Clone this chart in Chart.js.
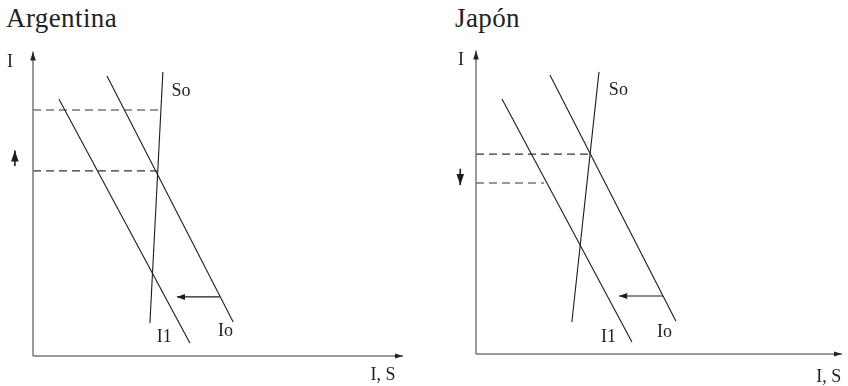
<!DOCTYPE html>
<html lang="es">
  <head>
    <meta charset="UTF-8" />
    <title>Ahorro e inversión: Argentina y Japón</title>
    <style>
      body {
        margin: 0;
        background: #fff;
      }
      .page {
        position: relative;
        width: 848px;
        height: 386px;
      }
      .panel {
        position: absolute;
        top: 0;
        width: 424px;
        height: 386px;
      }
      .panel h2 {
        position: absolute;
        top: 0;
        margin: 0;
        font-family: "Liberation Serif", "DejaVu Serif", serif;
        font-weight: normal;
        font-size: 27px;
        letter-spacing: 0.4px;
        color: #222;
        line-height: 36px;
      }
      canvas {
        position: absolute;
        left: 0;
        top: 0;
      }
    </style>
  </head>
  <body>
    <div class="page">
      <div class="panel" style="left: 0">
        <h2 style="left: 6px">Argentina</h2>
        <canvas id="chartArg" width="424" height="386"></canvas>
      </div>
      <div class="panel" style="left: 424px">
        <h2 style="left: 31px">Japón</h2>
        <canvas id="chartJap" width="424" height="386"></canvas>
      </div>
    </div>

    <script src="https://cdn.jsdelivr.net/npm/chart.js"></script>

    <script>
      // ejes en unidades del gráfico (0..100)
      const axisY = [{ x: 0, y: 0 }, { x: 0, y: 100.5 }];
      const axisX = [{ x: 0, y: 0 }, { x: 100, y: 0 }];

      // Argentina
      const argSo = [{ x: 35.1, y: 93.7 }, { x: 31.6, y: 10.9 }];
      const argIo = [{ x: 20.0, y: 92.4 }, { x: 54.1, y: 11.2 }];
      const argI1 = [{ x: 7.0, y: 84.8 }, { x: 42.4, y: 4.3 }];
      const argDashHigh = [{ x: 0, y: 81.2 }, { x: 33.8, y: 81.2 }];
      const argDashLow = [{ x: 0, y: 61.1 }, { x: 33.5, y: 61.1 }];
      const argShift = [{ x: 50.5, y: 19.5 }, { x: 38.9, y: 19.5 }];
      const argRateMove = [{ x: -4.9, y: 62.7 }, { x: -4.9, y: 67.8 }];
      const argLabels = [
        { text: "So", x: 40.0, y: 87.5 },
        { text: "I1", x: 35.5, y: 6.3 },
        { text: "Io", x: 52.0, y: 8.3 },
        { text: "I", x: -6.2, y: 97.0 },
        { text: "I, S", x: 94.6, y: -6.3 },
      ];

      // Japón
      const japSo = [{ x: 33.6, y: 93.4 }, { x: 26.2, y: 10.6 }];
      const japIo = [{ x: 20.2, y: 92.4 }, { x: 54.6, y: 10.9 }];
      const japI1 = [{ x: 7.1, y: 84.4 }, { x: 42.6, y: 4.0 }];
      const japDashHigh = [{ x: 0, y: 66.2 }, { x: 31.4, y: 66.2 }];
      const japDashLow = [{ x: 0, y: 56.6 }, { x: 18.6, y: 56.6 }];
      const japShift = [{ x: 51.1, y: 19.2 }, { x: 39.1, y: 19.2 }];
      const japRateMove = [{ x: -4.3, y: 61.3 }, { x: -4.3, y: 56.0 }];
      const japLabels = [
        { text: "So", x: 38.9, y: 87.4 },
        { text: "I1", x: 36.2, y: 5.6 },
        { text: "Io", x: 51.5, y: 7.3 },
        { text: "I", x: -4.1, y: 97.4 },
        { text: "I, S", x: 96.4, y: -7.6 },
      ];

      const ink = "#1c1c1c";

      // punta de flecha al final de los datasets marcados con arrow
      const arrowPlugin = {
        id: "arrows",
        afterDatasetsDraw(chart) {
          const c = chart.ctx;
          chart.data.datasets.forEach((ds, i) => {
            if (!ds.arrow) return;
            const pts = chart.getDatasetMeta(i).data;
            const a = pts[pts.length - 2];
            const b = pts[pts.length - 1];
            const ang = Math.atan2(b.y - a.y, b.x - a.x);
            const len = ds.arrow.len;
            const half = ds.arrow.half;
            c.save();
            c.fillStyle = ds.arrow.color || ink;
            c.translate(b.x, b.y);
            c.rotate(ang);
            c.beginPath();
            c.moveTo(0, 0);
            c.lineTo(-len, -half);
            c.lineTo(-len, half);
            c.closePath();
            c.fill();
            c.restore();
          });
        },
      };

      const labelPlugin = {
        id: "curveLabels",
        afterDraw(chart, args, opts) {
          const c = chart.ctx;
          const sx = chart.scales.x;
          const sy = chart.scales.y;
          c.save();
          c.fillStyle = "#222";
          c.font = '18px "Liberation Serif", serif';
          c.textAlign = "center";
          c.textBaseline = "middle";
          opts.items.forEach((l) => {
            c.fillText(l.text, sx.getPixelForValue(l.x), sy.getPixelForValue(l.y));
          });
          c.restore();
        },
      };

      function line(data, extra) {
        return Object.assign(
          {
            data: data,
            showLine: true,
            borderColor: ink,
            borderWidth: 1.1,
            pointRadius: 0,
            clip: false,
          },
          extra || {}
        );
      }

      function makeChart(id, parts, labels, padding) {
        new Chart(document.getElementById(id), {
          type: "scatter",
          data: {
            datasets: [
              line(axisY, { borderColor: "#777", borderWidth: 1.5, arrow: { len: 9, half: 2.8, color: "#222" } }),
              line(axisX, { borderColor: "#777", borderWidth: 1.5, arrow: { len: 8, half: 2.6, color: "#222" } }),
              line(parts.dashHigh, { borderColor: "#333", borderDash: [8, 5] }),
              line(parts.dashLow, { borderColor: "#333", borderDash: [8, 5] }),
              line(parts.so),
              line(parts.io),
              line(parts.i1),
              line(parts.shift, { arrow: { len: 8, half: 3 } }),
              line(parts.rateMove, { borderWidth: 1.6, arrow: { len: 11, half: 3.8 } }),
            ],
          },
          options: {
            responsive: false,
            animation: false,
            layout: { padding: padding },
            scales: {
              x: { type: "linear", min: 0, max: 100, display: false },
              y: { type: "linear", min: 0, max: 100, display: false },
            },
            plugins: {
              legend: { display: false },
              tooltip: { enabled: false },
              curveLabels: { items: labels },
            },
          },
          plugins: [arrowPlugin, labelPlugin],
        });
      }

      makeChart(
        "chartArg",
        {
          so: argSo,
          io: argIo,
          i1: argI1,
          dashHigh: argDashHigh,
          dashLow: argDashLow,
          shift: argShift,
          rateMove: argRateMove,
        },
        argLabels,
        { left: 33, right: 21, top: 53, bottom: 30 }
      );

      makeChart(
        "chartJap",
        {
          so: japSo,
          io: japIo,
          i1: japI1,
          dashHigh: japDashHigh,
          dashLow: japDashLow,
          shift: japShift,
          rateMove: japRateMove,
        },
        japLabels,
        { left: 52, right: 6, top: 52, bottom: 32 }
      );
    </script>
  </body>
</html>
